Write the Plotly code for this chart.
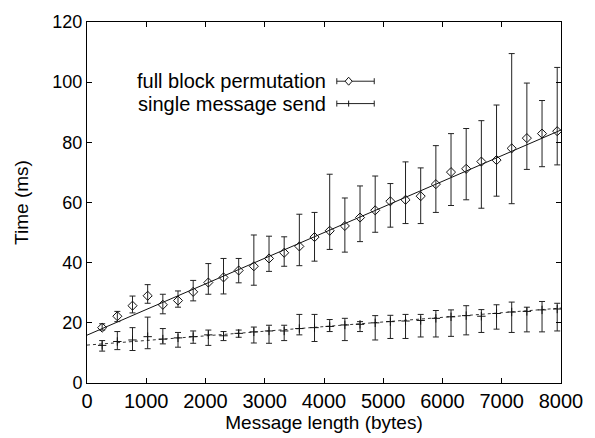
import plotly.graph_objects as go

# ---- data ----
msg_len = [256 * k for k in range(1, 32)]

perm_mean = [18.4, 22.2, 25.7, 29.0, 26.0, 27.4, 30.3, 33.4, 35.1, 37.4, 38.8, 41.4, 43.3, 45.4, 48.5, 50.6,
             52.2, 55.0, 57.4, 60.4, 60.9, 62.1, 66.1, 70.1, 71.2, 73.6, 74.1, 78.0, 81.4, 82.9, 83.7]
perm_hi = [19.7, 23.8, 28.9, 32.7, 29.5, 30.6, 34.1, 39.7, 41.4, 41.4, 49.2, 48.8, 48.6, 56.1, 56.7, 69.4,
           61.5, 65.5, 68.8, 66.3, 73.5, 71.5, 78.9, 82.9, 84.6, 87.2, 92.4, 109.5, 99.7, 93.9, 104.9]
perm_lo = [17.6, 20.4, 23.3, 26.5, 23.0, 25.2, 27.3, 29.5, 29.6, 33.3, 32.5, 37.1, 38.8, 39.0, 40.5, 44.4,
           43.5, 47.0, 50.1, 51.8, 53.0, 53.0, 56.7, 59.0, 60.9, 58.1, 62.1, 59.6, 71.0, 71.9, 72.5]

send_mean = [12.5, 13.8, 14.3, 15.4, 14.6, 15.0, 15.4, 16.0, 15.7, 16.5, 17.0, 17.3, 17.3, 18.1, 18.4, 18.8,
             19.3, 19.5, 20.0, 20.4, 20.6, 20.8, 21.5, 22.0, 22.4, 22.2, 23.1, 23.6, 23.8, 24.3, 24.6]
send_hi = [14.1, 17.1, 18.4, 21.9, 18.1, 16.8, 17.3, 17.6, 17.1, 17.6, 18.6, 19.2, 19.2, 22.8, 22.8, 21.1,
           21.5, 20.4, 22.4, 22.5, 22.8, 22.8, 24.1, 24.3, 25.7, 24.4, 26.0, 26.9, 25.2, 27.1, 26.5]
send_lo = [10.6, 11.1, 10.8, 11.4, 13.0, 11.9, 13.2, 12.5, 14.1, 15.2, 13.3, 13.2, 14.1, 16.0, 13.8, 17.1,
           14.1, 17.1, 14.3, 14.8, 14.8, 15.3, 15.3, 15.5, 16.0, 16.8, 17.9, 16.8, 17.0, 17.0, 17.3]

fit_x = [0, 8000]
perm_fit = [15.9, 84.1]
send_fit = [12.6, 24.9]

x_ticks = [0, 1000, 2000, 3000, 4000, 5000, 6000, 7000, 8000]
y_ticks = [0, 20, 40, 60, 80, 100, 120]

FONT = "Liberation Sans, Arial, Helvetica, sans-serif"
BAR = "#222222"

fig = go.Figure()

# fit lines
fig.add_trace(go.Scatter(x=fit_x, y=perm_fit, mode="lines",
                         line=dict(color="#111111", width=1), showlegend=False, hoverinfo="skip"))
fig.add_trace(go.Scatter(x=fit_x, y=send_fit, mode="lines",
                         line=dict(color="#333333", width=1, dash="3px,3px"), showlegend=False, hoverinfo="skip"))

# data with error bars
fig.add_trace(go.Scatter(
    x=msg_len, y=perm_mean, mode="markers", showlegend=False,
    marker=dict(symbol="diamond-open", size=7, color="#111111", line=dict(width=1)),
    error_y=dict(type="data", symmetric=False,
                 array=[h - m for h, m in zip(perm_hi, perm_mean)],
                 arrayminus=[m - l for l, m in zip(perm_lo, perm_mean)],
                 color=BAR, thickness=1, width=3),
))
fig.add_trace(go.Scatter(
    x=msg_len, y=send_mean, mode="markers", showlegend=False,
    marker=dict(symbol="cross-thin-open", size=6, color="#111111", line=dict(width=1, color="#111111")),
    error_y=dict(type="data", symmetric=False,
                 array=[h - m for h, m in zip(send_hi, send_mean)],
                 arrayminus=[m - l for l, m in zip(send_lo, send_mean)],
                 color=BAR, thickness=1, width=3),
))

# manual gnuplot-style legend
shapes = []
annotations = []
legend_rows = [("full block permutation", 0.836, "diamond"), ("single message send", 0.774, "plus")]
x0, x1, xm = 0.527, 0.606, 0.552
for label, yy, kind in legend_rows:
    annotations.append(dict(text=label, x=0.508, y=yy, xref="paper", yref="paper",
                            xanchor="right", yanchor="middle", showarrow=False,
                            font=dict(family=FONT, size=20, color="black")))
    shapes.append(dict(type="line", xref="paper", yref="paper", x0=x0, x1=x1, y0=yy, y1=yy,
                       line=dict(color=BAR, width=1)))
    for xe in (x0, x1):
        shapes.append(dict(type="line", xref="paper", yref="paper", xsizemode="pixel", ysizemode="pixel",
                           xanchor=xe, yanchor=yy, x0=0, x1=0, y0=-3, y1=3,
                           line=dict(color=BAR, width=1)))
    if kind == "diamond":
        shapes.append(dict(type="path", xref="paper", yref="paper", xsizemode="pixel", ysizemode="pixel",
                           xanchor=xm, yanchor=yy, path="M 0,4 L 3.5,0 L 0,-4 L -3.5,0 Z",
                           line=dict(color="#111111", width=1), fillcolor="white"))
    else:
        shapes.append(dict(type="line", xref="paper", yref="paper", xsizemode="pixel", ysizemode="pixel",
                           xanchor=xm, yanchor=yy, x0=0, x1=0, y0=-3, y1=3,
                           line=dict(color="#111111", width=1)))

fig.update_layout(
    width=595, height=438,
    margin=dict(l=87, r=25, t=14, b=55),
    paper_bgcolor="white", plot_bgcolor="white",
    font=dict(family=FONT, size=19, color="black"),
    shapes=shapes, annotations=annotations,
    showlegend=False,
)
fig.update_xaxes(range=[0, 8000], tickvals=x_ticks, ticktext=[str(v) for v in x_ticks],
                 ticks="inside", ticklen=5, tickcolor="black", showline=True, linecolor="black",
                 linewidth=1, mirror="ticks", showgrid=False, zeroline=False,
                 tickfont=dict(size=20),
                 title=dict(text="Message length (bytes)", standoff=0, font=dict(size=19)))
fig.update_yaxes(range=[0, 120], tickvals=y_ticks, ticktext=[str(v) for v in y_ticks],
                 ticks="inside", ticklen=5, tickcolor="black", showline=True, linecolor="black",
                 linewidth=1, mirror="ticks", showgrid=False, zeroline=False,
                 tickfont=dict(size=18),
                 title=dict(text="Time (ms)", standoff=18, font=dict(size=19)))

fig.write_html("out.html")
